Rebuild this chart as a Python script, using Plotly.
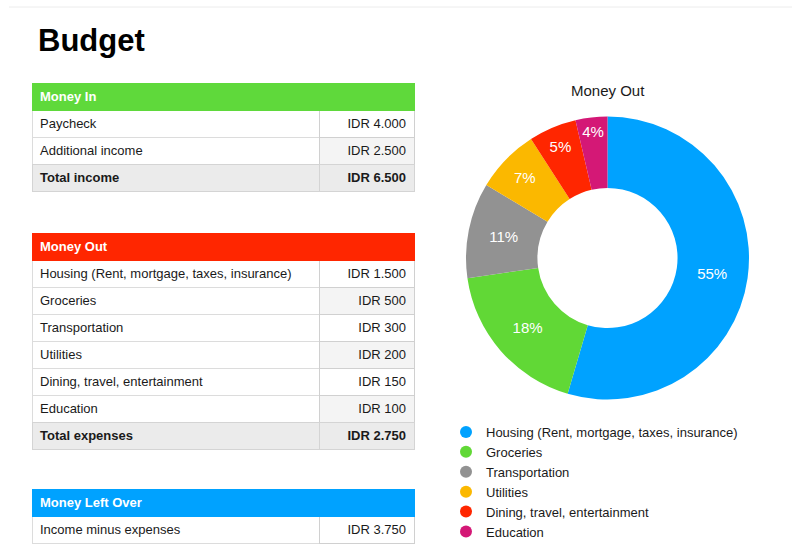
import plotly.graph_objects as go

# ---- data ----
income_items = ["Paycheck", "Additional income"]
income_values = [4000, 2500]

expense_items = ["Housing (Rent, mortgage, taxes, insurance)", "Groceries",
                 "Transportation", "Utilities", "Dining, travel, entertainment", "Education"]
expense_values = [1500, 500, 300, 200, 150, 100]

slice_colors = ["#00a2ff", "#61d836", "#929292", "#fbb800", "#ff2600", "#d41876"]

FONT = "Helvetica Neue, Helvetica, Arial, Liberation Sans, sans-serif"
W, H = 792, 556


def idr(v):
    return "IDR " + f"{v:,}".replace(",", ".")


total_income = sum(income_values)
total_exp = sum(expense_values)
left_over = total_income - total_exp

# table geometry (px)
TX0, TX1 = 32, 414
ROW_H = 27
COLW = [287, 95]


def dom_y(top, nrows):
    bottom = top + ROW_H * nrows + 12
    return [1 - bottom / H, 1 - top / H]


def make_table(fig, title, head_color, labels, values, total_label=None, total_value=None, top=0):
    col1 = list(labels)
    col2 = [idr(v) for v in values]
    fill1 = ["white"] * len(labels)
    fill2 = ["white" if i % 2 == 0 else "#f4f4f4" for i in range(len(labels))]
    nrows = len(col1) + 1
    fig.add_trace(go.Table(
        domain=dict(x=[TX0 / W, TX1 / W], y=dom_y(top, nrows)),
        columnwidth=COLW,
        header=dict(values=[title, ""],
                    fill_color=head_color,
                    line=dict(color=head_color, width=1),
                    align=["left", "right"],
                    font=dict(family=FONT, size=13, color="white", weight="bold"),
                    height=ROW_H),
        cells=dict(values=[col1, col2],
                   fill_color=[fill1, fill2],
                   line=dict(color=["#dcdcdc", "#d0d0d0"], width=1),
                   align=["left", "right"],
                   font=dict(family=FONT, size=13, color="#1a1a1a"),
                   height=ROW_H),
    ))
    if total_label is not None:
        ttop = top + ROW_H * nrows
        fig.add_trace(go.Table(
            domain=dict(x=[TX0 / W, TX1 / W], y=dom_y(ttop, 1)),
            columnwidth=COLW,
            header=dict(values=[total_label, idr(total_value)],
                        fill_color="#ebebeb",
                        line=dict(color="#d4d4d4", width=1),
                        align=["left", "right"],
                        font=dict(family=FONT, size=13, color="#1a1a1a", weight="bold"),
                        height=ROW_H),
            cells=dict(values=[[], []], height=0),
        ))


fig = go.Figure()

make_table(fig, "Money In", "#5fd93b", income_items, income_values,
           "Total income", total_income, top=83)
make_table(fig, "Money Out", "#ff2600", expense_items, expense_values,
           "Total expenses", total_exp, top=233)
make_table(fig, "Money Left Over", "#00a2ff", ["Income minus expenses"], [left_over], top=489)

# donut
CX, CY, R = 607.5, 258, 141.5
fig.add_trace(go.Pie(
    labels=expense_items, values=expense_values,
    sort=False, direction="clockwise", rotation=0,
    hole=0.495,
    marker=dict(colors=slice_colors, line=dict(width=0)),
    texttemplate="%{percent:.0%}",
    textposition="inside",
    insidetextorientation="horizontal",
    textfont=dict(family=FONT, size=15, color="white"),
    domain=dict(x=[(CX - R) / W, (CX + R) / W], y=[1 - (CY + R) / H, 1 - (CY - R) / H]),
    showlegend=False,
    hoverinfo="label+value+percent",
))

# legend entries (circle markers)
for name, col in zip(expense_items, slice_colors):
    fig.add_trace(go.Scatter(x=[None], y=[None], mode="markers", name=name,
                             marker=dict(symbol="circle", size=12, color=col)))

fig.update_layout(
    width=W, height=H,
    margin=dict(l=0, r=0, t=0, b=0),
    paper_bgcolor="white", plot_bgcolor="white",
    font=dict(family=FONT, color="#1a1a1a"),
    xaxis=dict(visible=False, domain=[0.9, 0.95]),
    yaxis=dict(visible=False, domain=[0.0, 0.05]),
    uniformtext=dict(minsize=15, mode="show"),
    legend=dict(x=446 / W, y=1 - 417 / H, xanchor="left", yanchor="top",
                font=dict(family=FONT, size=13, color="#1a1a1a"),
                itemsizing="constant", tracegroupgap=0,
                bgcolor="rgba(0,0,0,0)"),
    annotations=[
        dict(text="<b>Budget</b>", x=36 / W, y=1 - 41 / H, xref="paper", yref="paper",
             xanchor="left", yanchor="middle", showarrow=False,
             font=dict(family=FONT, size=31, color="black")),
        dict(text="Money Out", x=CX / W, y=1 - 91 / H, xref="paper", yref="paper",
             xanchor="center", yanchor="middle", showarrow=False,
             font=dict(family=FONT, size=15, color="#1a1a1a")),
    ],
    shapes=[
        dict(type="line", xref="paper", yref="paper", x0=9 / W, x1=1.0,
             y0=1 - 7 / H, y1=1 - 7 / H, line=dict(color="#ececec", width=1)),
    ],
)

fig.write_html("out.html", config={"displayModeBar": False},
               post_script="document.body.style.margin='0';")
